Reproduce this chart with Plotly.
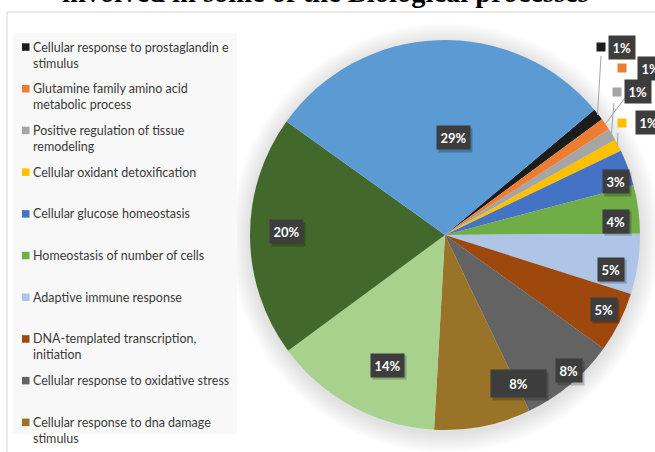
import math
import plotly.graph_objects as go

W, H = 655, 452

# ---------------- data ----------------
processes = [
    "Cellular response to prostaglandin e stimulus",
    "Glutamine family amino acid metabolic process",
    "Positive regulation of tissue remodeling",
    "Cellular oxidant detoxification",
    "Cellular glucose homeostasis",
    "Homeostasis of number of cells",
    "Adaptive immune response",
    "DNA-templated transcription, initiation",
    "Cellular response to oxidative stress",
    "Cellular response to dna damage stimulus",
    "Other process 1",
    "Other process 2",
    "Other process 3",
]
legend_lines = [
    "Cellular response to prostaglandin e<br>stimulus",
    "Glutamine family amino acid<br>metabolic process",
    "Positive regulation of tissue<br>remodeling",
    "Cellular oxidant detoxification",
    "Cellular glucose homeostasis",
    "Homeostasis of number of cells",
    "Adaptive immune response",
    "DNA-templated transcription,<br>initiation",
    "Cellular response to oxidative stress",
    "Cellular response to dna damage<br>stimulus",
]
percentages = [1, 1, 1, 1, 3, 4, 5, 5, 8, 8, 14, 20, 29]
colors = ["#1c1c1c", "#ED7D31", "#A5A5A5", "#FFC000", "#4472C4", "#70AD47",
          "#AEC5E7", "#9E480E", "#636363", "#997328", "#A9D18E", "#43682B",
          "#5B9AD3"]
title_text = "involved in some of the Biological processes"

# ---------------- geometry helpers ----------------
CX, CY, R = 445, 235, 195          # pie centre / radius in pixels
ROT = 50                           # start angle (deg, clockwise from 12 o'clock)


def px(x):
    return x / W


def py(y):
    return 1 - y / H


total = sum(percentages)
mids = []
acc = 0
for v in percentages:
    mids.append(ROT + 360 * (acc + v / 2) / total)
    acc += v


def polar(angle_deg, rr):
    a = math.radians(angle_deg)
    return CX + rr * math.sin(a), CY - rr * math.cos(a)


fig = go.Figure()
fig.add_trace(go.Pie(
    labels=processes, values=percentages, sort=False, direction="clockwise",
    rotation=ROT, textinfo="none", showlegend=False,
    marker=dict(colors=colors, line=dict(width=0)),
    domain=dict(x=[px(CX - R), px(CX + R)], y=[py(CY + R), py(CY - R)]),
    hoverinfo="label+percent",
))

shapes = []
annotations = []

# soft glow around the pie
for i in range(10):
    rr = R + 20 - 2 * i
    shapes.append(dict(type="circle", xref="paper", yref="paper", layer="below",
                       x0=px(CX - rr), x1=px(CX + rr), y0=py(CY + 3 + rr), y1=py(CY + 3 - rr),
                       line=dict(width=0), fillcolor="rgba(0,0,0,0.011)"))

# chart area border
shapes.append(dict(type="line", xref="paper", yref="paper", x0=px(7), x1=px(7), y0=py(12), y1=py(H + 5),
                   line=dict(color="#d4d4d4", width=1)))
shapes.append(dict(type="line", xref="paper", yref="paper", x0=px(7), x1=px(W + 5), y0=py(12), y1=py(12),
                   line=dict(color="#d4d4d4", width=1)))
# legend background
shapes.append(dict(type="rect", xref="paper", yref="paper", layer="below",
                   x0=px(13), x1=px(237), y0=py(434), y1=py(33),
                   line=dict(width=0), fillcolor="#f8f8f8"))

# manual legend
LEG_Y0, LEG_DY = 47, 41.7
for i, txt in enumerate(legend_lines):
    yc = LEG_Y0 + i * LEG_DY
    shapes.append(dict(type="rect", xref="paper", yref="paper",
                       x0=px(22), x1=px(29.5), y0=py(yc + 3.8), y1=py(yc - 3.7),
                       line=dict(width=0), fillcolor=colors[i]))
    annotations.append(dict(x=px(31), y=py(yc - 9.5), xref="paper", yref="paper",
                            xanchor="left", yanchor="top", align="left", showarrow=False,
                            text=txt, font=dict(family="Lato", size=12.5, color="#3a3a3a")))

# data labels inside / near slices
radius_factor = {4: 0.92, 5: 0.88, 6: 0.87, 7: 0.90, 8: 0.945, 9: 0.85, 10: 0.73, 11: 0.815, 12: 0.50}
angle_shift = {9: -15, 12: 7, 4: 3, 5: 3, 6: 3, 7: -1.5, 8: -2.5, 10: -4.5, 11: 1.5}
wide_box = {9: (48, 20)}
label_font = dict(family="Lato", size=13, color="white")
common = dict(xref="paper", yref="paper", showarrow=False, xanchor="center", yanchor="middle",
              borderpad=3.5)
for i, f in radius_factor.items():
    x, y = polar(mids[i] + angle_shift.get(i, 0), R * f)
    txt = "<b>%d%%</b>" % round(100 * percentages[i] / total)
    extra = {}
    if i in wide_box:
        extra = dict(width=wide_box[i][0], height=wide_box[i][1])
    annotations.append(dict(x=px(x + 2), y=py(y + 2.5), text=txt,
                            font=dict(family="Lato", size=13, color="rgba(0,0,0,0)"),
                            bgcolor="rgba(0,0,0,0.22)", **common, **extra))
    annotations.append(dict(x=px(x), y=py(y), text=txt, font=label_font,
                            bgcolor="#3d3d3d", **common, **extra))

# call-outs for the small 1% slices: (box centre, key centre, leader start)
callouts = {
    0: ((622, 48), (601, 47), (601, 56)),
    1: ((651, 68), (622, 68), (640, 78)),
    2: ((638, 92), (617, 92), (614, 103)),
    3: ((649, 123), (622, 123), (618, 133)),
}
for i, ((bx, by), (kx, ky), (lx, ly)) in callouts.items():
    ex, ey = polar(mids[i], R - 1)
    shapes.append(dict(type="line", xref="paper", yref="paper", x0=px(lx), y0=py(ly), x1=px(ex), y1=py(ey),
                       line=dict(color="#a6a6a6", width=1)))
    shapes.append(dict(type="rect", xref="paper", yref="paper",
                       x0=px(kx - 4.5), x1=px(kx + 4.5), y0=py(ky + 4.5), y1=py(ky - 4.5),
                       line=dict(width=0), fillcolor=colors[i]))
    txt = "<b>%d%%</b>" % round(100 * percentages[i] / total)
    annotations.append(dict(x=px(bx), y=py(by), text=txt, font=label_font,
                            bgcolor="#3d3d3d", **common))

# (clipped) title
annotations.append(dict(x=px(325.5), y=py(10), xref="paper", yref="paper", xanchor="center", yanchor="bottom",
                        showarrow=False, text="<b>%s</b>" % title_text,
                        font=dict(family="Liberation Serif", size=28.5, color="black")))

fig.update_layout(width=W, height=H, margin=dict(l=0, r=0, t=0, b=0),
                  paper_bgcolor="white", plot_bgcolor="white", showlegend=False,
                  shapes=shapes, annotations=annotations)

fig.write_html("out.html", config=dict(displayModeBar=False),
               post_script="document.body.style.margin='0px'; document.body.style.overflow='hidden';")
